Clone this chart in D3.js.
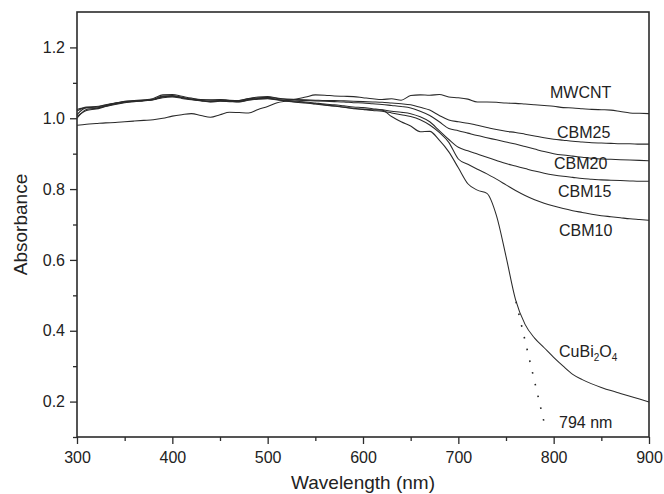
<!DOCTYPE html>
<html>
<head>
<meta charset="utf-8">
<script src="https://cdn.jsdelivr.net/npm/d3@7/dist/d3.min.js"></script>
<style>
  body { margin: 0; background: #fff; }
  svg { display: block; font-family: "Liberation Sans", Arial, sans-serif; }
</style>
</head>
<body>
<div id="chart"></div>
<script>
// wavelength grid (nm)
const wavelengths = [300,310,320,330,340,350,360,370,380,390,400,410,420,430,440,450,460,470,480,490,
  500,510,520,530,540,550,560,570,580,590,600,610,620,630,640,650,660,670,680,690,
  700,710,720,730,740,750,760,770,780,790,800,810,820,830,840,850,860,870,880,890,900];

const mwcnt = [0.980,0.983,0.985,0.987,0.988,0.990,0.992,0.994,0.996,1.000,1.006,1.010,1.013,1.008,1.003,1.010,1.017,1.016,1.015,1.025,
  1.033,1.044,1.049,1.054,1.060,1.066,1.065,1.063,1.062,1.061,1.058,1.055,1.053,1.055,1.051,1.064,1.066,1.065,1.067,1.060,
  1.058,1.054,1.046,1.046,1.045,1.043,1.042,1.040,1.038,1.036,1.034,1.030,1.029,1.027,1.025,1.024,1.023,1.019,1.015,1.014,1.013];

const cbm25 = [1.010,1.030,1.028,1.035,1.042,1.047,1.049,1.050,1.053,1.060,1.062,1.058,1.054,1.052,1.051,1.052,1.050,1.050,1.055,1.058,
  1.059,1.056,1.054,1.053,1.052,1.051,1.050,1.050,1.049,1.048,1.047,1.046,1.045,1.043,1.041,1.038,1.031,1.023,1.008,0.995,
  0.990,0.986,0.980,0.974,0.968,0.963,0.960,0.955,0.950,0.945,0.941,0.938,0.935,0.933,0.931,0.930,0.929,0.928,0.928,0.927,0.927];

const cbm20 = [1.020,1.032,1.033,1.038,1.043,1.048,1.050,1.052,1.056,1.066,1.067,1.062,1.057,1.053,1.052,1.053,1.051,1.050,1.056,1.060,
  1.061,1.057,1.053,1.051,1.050,1.049,1.048,1.047,1.046,1.044,1.043,1.041,1.039,1.036,1.033,1.029,1.020,1.008,0.990,0.971,
  0.965,0.958,0.951,0.945,0.939,0.933,0.927,0.920,0.913,0.906,0.900,0.896,0.893,0.890,0.887,0.885,0.884,0.883,0.882,0.881,0.880];

const cbm15 = [1.000,1.025,1.028,1.034,1.040,1.045,1.048,1.050,1.053,1.063,1.064,1.059,1.054,1.050,1.048,1.050,1.049,1.048,1.053,1.056,
  1.057,1.053,1.050,1.048,1.046,1.043,1.040,1.038,1.035,1.032,1.030,1.027,1.024,1.020,1.017,1.013,1.004,0.990,0.965,0.940,
  0.918,0.908,0.899,0.890,0.881,0.872,0.865,0.858,0.851,0.845,0.840,0.836,0.833,0.830,0.828,0.826,0.825,0.824,0.823,0.822,0.822];

const cbm10 = [1.025,1.030,1.031,1.037,1.042,1.046,1.048,1.050,1.052,1.061,1.062,1.058,1.053,1.050,1.047,1.049,1.048,1.047,1.052,1.055,
  1.056,1.052,1.048,1.045,1.043,1.040,1.037,1.034,1.031,1.028,1.025,1.022,1.020,1.015,1.010,1.005,0.996,0.981,0.960,0.932,
  0.885,0.870,0.856,0.843,0.828,0.812,0.796,0.782,0.770,0.760,0.752,0.745,0.739,0.734,0.729,0.725,0.722,0.719,0.716,0.714,0.712];

const cubi2o4 = [1.005,1.022,1.026,1.033,1.039,1.044,1.047,1.049,1.052,1.058,1.060,1.056,1.052,1.049,1.046,1.048,1.047,1.046,1.051,1.054,
  1.055,1.052,1.049,1.046,1.044,1.041,1.038,1.035,1.031,1.027,1.025,1.024,1.023,1.005,0.990,0.978,0.962,0.963,0.938,0.905,
  0.860,0.815,0.797,0.788,0.725,0.610,0.488,0.418,0.379,0.352,0.325,0.300,0.277,0.262,0.250,0.240,0.231,0.223,0.215,0.207,0.199];

// band-edge tangent for CuBi2O4
const tangentX = [760.5, 792];
const tangentY = [0.482, 0.118];

const xTicks = [300,400,500,600,700,800,900];
const xMinor = [350,450,550,650,750,850];
const yTicks = [0.2,0.4,0.6,0.8,1.0,1.2];
const yMinor = [0.1,0.3,0.5,0.7,0.9,1.1];

const width = 664, height = 494;
const margin = {top: 12, right: 15, bottom: 57, left: 77};

const svg = d3.select("#chart").append("svg")
    .attr("width", width)
    .attr("height", height);

const x = d3.scaleLinear().domain([300, 900]).range([margin.left, width - margin.right]);
const y = d3.scaleLinear().domain([0.1, 1.3]).range([height - margin.bottom, margin.top]);

const axisColor = "#2b2b2b";

// minor ticks
svg.append("g")
    .attr("transform", "translate(0," + y(0.1) + ")")
    .call(d3.axisBottom(x).tickValues(xMinor).tickSize(4).tickFormat("").tickSizeOuter(0))
    .call(g => g.select(".domain").remove());
svg.append("g")
    .attr("transform", "translate(" + x(300) + ",0)")
    .call(d3.axisLeft(y).tickValues(yMinor).tickSize(4).tickFormat("").tickSizeOuter(0))
    .call(g => g.select(".domain").remove());

// major ticks
const gx = svg.append("g")
    .attr("transform", "translate(0," + y(0.1) + ")")
    .call(d3.axisBottom(x).tickValues(xTicks).tickSize(7).tickPadding(8).tickFormat(d3.format("d")).tickSizeOuter(0));
gx.select(".domain").remove();

const gy = svg.append("g")
    .attr("transform", "translate(" + x(300) + ",0)")
    .call(d3.axisLeft(y).tickValues(yTicks).tickSize(7).tickPadding(5).tickFormat(d3.format(".1f")).tickSizeOuter(0));
gy.select(".domain").remove();

svg.selectAll(".tick line").attr("stroke", axisColor).attr("stroke-width", 1.3);
svg.selectAll(".tick text")
    .attr("fill", "#222")
    .style("font-size", "16px")
    .style("font-family", "Liberation Sans, Arial, sans-serif");

// frame
svg.append("rect")
    .attr("x", x(300))
    .attr("y", y(1.3))
    .attr("width", x(900) - x(300))
    .attr("height", y(0.1) - y(1.3))
    .attr("fill", "none")
    .attr("stroke", axisColor)
    .attr("stroke-width", 1.6);

// curves
const series = [mwcnt, cbm25, cbm20, cbm15, cbm10, cubi2o4];
const line = d3.line()
    .x((d, i) => x(wavelengths[i]))
    .y(d => y(d))
    .curve(d3.curveMonotoneX);

svg.append("g")
    .selectAll("path")
    .data(series)
    .enter().append("path")
    .attr("d", line)
    .attr("fill", "none")
    .attr("stroke", "#2a2a2a")
    .attr("stroke-width", 1.05)
    .attr("stroke-linejoin", "round");

// tangent dots
svg.append("line")
    .attr("x1", x(tangentX[0])).attr("y1", y(tangentY[0]))
    .attr("x2", x(tangentX[1])).attr("y2", y(tangentY[1]))
    .attr("stroke", "#222")
    .attr("stroke-width", 1.6)
    .attr("stroke-dasharray", "1.6,10.45");

// curve labels
const labelStyle = sel => sel.attr("fill", "#222").style("font-size", "16px");
labelStyle(svg.append("text").attr("x", 550).attr("y", 98).text("MWCNT"));
labelStyle(svg.append("text").attr("x", 557).attr("y", 138).text("CBM25"));
labelStyle(svg.append("text").attr("x", 554).attr("y", 169).style("font-size", "17.5px").text("CBM20"));
labelStyle(svg.append("text").attr("x", 558).attr("y", 197).text("CBM15"));
labelStyle(svg.append("text").attr("x", 559).attr("y", 236).text("CBM10"));
labelStyle(svg.append("text").attr("x", 559).attr("y", 428).text("794 nm"));

const cu = svg.append("text").attr("x", 559).attr("y", 357).attr("fill", "#222").style("font-size", "16px");
cu.append("tspan").text("CuBi");
cu.append("tspan").attr("dy", 4).style("font-size", "10px").text("2");
cu.append("tspan").attr("dy", -4).text("O");
cu.append("tspan").attr("dy", 4).style("font-size", "10px").text("4");

// axis titles
svg.append("text")
    .attr("x", (x(300) + x(900)) / 2)
    .attr("y", 489)
    .attr("text-anchor", "middle")
    .attr("fill", "#222")
    .style("font-size", "19px")
    .text("Wavelength (nm)");

svg.append("text")
    .attr("transform", "translate(27," + ((y(0.1) + y(1.3)) / 2) + ") rotate(-90)")
    .attr("text-anchor", "middle")
    .attr("fill", "#222")
    .style("font-size", "19px")
    .text("Absorbance");
</script>
</body>
</html>
